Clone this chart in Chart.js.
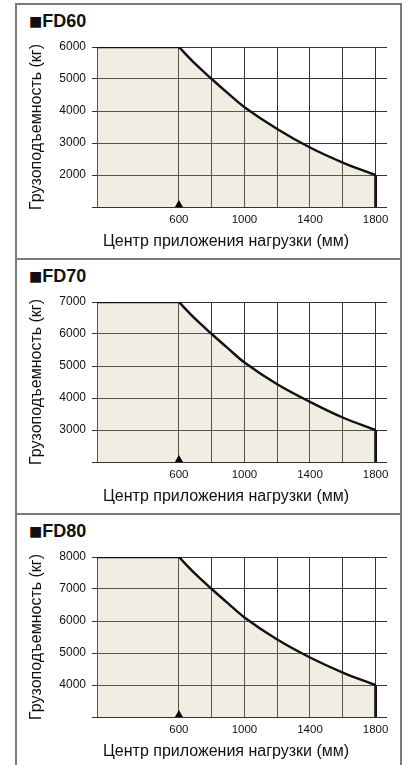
<!DOCTYPE html>
<html>
<head>
<meta charset="utf-8">
<script src="https://cdn.jsdelivr.net/npm/chart.js@4.4.1/dist/chart.umd.min.js"></script>
<style>
body { margin: 0; background: #fff; width: 409px; height: 765px; overflow: hidden; }
.panel { position: absolute; left: 15px; width: 383px; height: 253px; border: 2px solid #7a7a7a; border-bottom: none; }
.head { position: absolute; left: 12px; top: 6px; line-height: 20px; font: bold 18px "Liberation Sans", Arial, sans-serif; color: #111; }
.head span { font: 14px "DejaVu Sans", sans-serif; vertical-align: 1px; }
.panel canvas { position: absolute; left: 0; top: 28px; }
</style>
</head>
<body>
<div class="panel" style="top:3px"><div class="head"><span>■</span>FD60</div><canvas id="c0" width="383" height="220"></canvas></div>
<div class="panel" style="top:258px"><div class="head"><span>■</span>FD70</div><canvas id="c1" width="383" height="220"></canvas></div>
<div class="panel" style="top:513px"><div class="head"><span>■</span>FD80</div><canvas id="c2" width="383" height="220"></canvas></div>
<script>
// load center (mm) and rated capacity (kg)
const models = ['FD60', 'FD70', 'FD80'];
const loadCenters = [600, 700, 800, 900, 1000, 1200, 1400, 1600, 1800];
const fd60 = [6000, 5470, 5000, 4550, 4120, 3440, 2860, 2390, 2000];
const fd70 = [7000, 6470, 6000, 5550, 5110, 4430, 3880, 3390, 3000];
const fd80 = [8000, 7470, 7000, 6550, 6110, 5420, 4860, 4390, 4000];
const capacities = [fd60, fd70, fd80];
const yMins = [1000, 2000, 3000];
const yMaxs = [6000, 7000, 8000];
const xStart = 100;
const xEnd = 1870;
const xGridValues = [100, 600, 800, 1000, 1200, 1400, 1600, 1800];
const xTickLabels = [600, 1000, 1400, 1800];
const markerX = 600;
const xTitle = 'Центр приложения нагрузки (мм)';
const yTitle = 'Грузоподъемность (кг)';

const regular = '"Liberation Sans", Arial, sans-serif';
const fillColor = 'rgba(205,185,140,0.25)';
const lineColor = '#111';

// triangle on the axis at the rated load center + x axis title
const extrasPlugin = {
    id: 'extras',
    afterDatasetsDraw(chart) {
        const ctx = chart.ctx;
        const x = chart.scales.x.getPixelForValue(markerX);
        const y = chart.scales.y.getPixelForValue(chart.scales.y.min);
        ctx.save();
        ctx.fillStyle = '#000';
        ctx.beginPath();
        ctx.moveTo(x - 4, y);
        ctx.lineTo(x + 4, y);
        ctx.lineTo(x, y - 7);
        ctx.closePath();
        ctx.fill();
        ctx.fillStyle = '#111';
        ctx.font = '16px ' + regular;
        ctx.textAlign = 'left';
        ctx.textBaseline = 'middle';
        ctx.fillText(xTitle, chart.chartArea.left + 6, chart.chartArea.bottom + 35);
        ctx.restore();
    }
};

for (let i = 0; i < models.length; i++) {
    const vals = capacities[i];
    const curve = loadCenters.map((x, k) => ({ x: x, y: vals[k] }));
    const flat = [{ x: xStart, y: vals[0] }, { x: loadCenters[0], y: vals[0] }];
    const last = loadCenters.length - 1;
    const drop = [{ x: loadCenters[last], y: vals[last] }, { x: loadCenters[last], y: yMins[i] }];

    new Chart(document.getElementById('c' + i), {
        type: 'line',
        data: {
            datasets: [
                { data: flat, borderColor: lineColor, borderWidth: 2.4, backgroundColor: fillColor, fill: 'start', pointRadius: 0, tension: 0 },
                { data: curve, borderColor: lineColor, borderWidth: 2.4, backgroundColor: fillColor, fill: 'start', pointRadius: 0, tension: 0.35 },
                { data: drop, borderColor: lineColor, borderWidth: 3, fill: false, pointRadius: 0 }
            ]
        },
        options: {
            responsive: false,
            animation: false,
            events: [],
            layout: { padding: { left: 0, top: 14, right: 13, bottom: 0 } },
            plugins: { legend: { display: false }, tooltip: { enabled: false } },
            scales: {
                x: {
                    type: 'linear',
                    min: xStart,
                    max: xEnd,
                    afterBuildTicks: function(scale) {
                        scale.ticks = xGridValues.map(v => ({ value: v }));
                    },
                    afterFit: function(scale) { scale.height = 46; },
                    grid: { color: '#333', lineWidth: 1, drawTicks: false },
                    border: { display: false },
                    ticks: {
                        autoSkip: false,
                        maxRotation: 0,
                        padding: 6,
                        color: '#111',
                        font: { family: regular, size: 11.5 },
                        callback: function(v) { return xTickLabels.includes(v) ? String(v) : ''; }
                    }
                },
                y: {
                    min: yMins[i],
                    max: yMaxs[i],
                    afterFit: function(scale) { scale.width = 80; },
                    grid: { color: '#333', lineWidth: 1, tickLength: 5 },
                    border: { display: true, color: '#333', width: 1 },
                    ticks: {
                        stepSize: 1000,
                        padding: 6,
                        color: '#111',
                        font: { family: regular, size: 12 },
                        callback: function(v) { return v === yMins[i] ? '' : String(v); }
                    },
                    title: {
                        display: true,
                        text: yTitle,
                        color: '#111',
                        font: { family: regular, size: 16 },
                        padding: { top: 9.9, bottom: 0 }
                    }
                }
            }
        },
        plugins: [extrasPlugin]
    });
}
</script>
</body>
</html>
